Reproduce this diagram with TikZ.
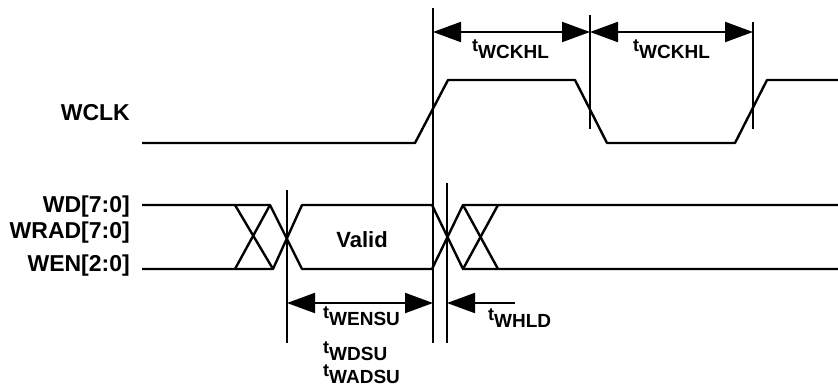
\documentclass[tikz,border=0pt]{standalone}
\usepackage{fontspec}
\setmainfont{Liberation Sans}
\usetikzlibrary{arrows.meta}
\newcommand{\tlab}[1]{{\fontsize{18}{18}\selectfont t}\raisebox{-7pt}{\fontsize{19}{19}\selectfont #1}}
\begin{document}
\begin{tikzpicture}[x=1pt,y=-1pt,
  sig/.style={line width=2.4pt, line join=round},
  vline/.style={line width=1.3pt},
  tip/.tip={Triangle[length=28pt,width=20pt]},
  dim/.style={line width=2pt, tip-tip},
  ldim/.style={line width=2pt, tip-},
  sname/.style={font=\bfseries\fontsize{23}{23}\selectfont, anchor=base east, inner sep=0pt},
  tl/.style={font=\bfseries, inner sep=0pt, anchor=base west}]
\useasboundingbox (0,0) rectangle (838,388);

% WCLK
\draw[sig] (142,143) -- (415,143) -- (448,80) -- (575,80) -- (607,143) -- (735,143) -- (767,80) -- (838,80);

% data bus
\draw[sig] (142,205) -- (270,205) -- (302,269) -- (432,269) -- (463,205) -- (838,205);
\draw[sig] (142,269) -- (273,269) -- (302,205) -- (432,205) -- (463,269) -- (838,269);
\draw[sig] (235,205) -- (273,269);
\draw[sig] (235,269) -- (270,205);
\draw[sig] (463,205) -- (498,269);
\draw[sig] (463,269) -- (498,205);

% reference lines
\coordinate (a1) at (287,190); \coordinate (a2) at (287,343);
\coordinate (b1) at (433,8);   \coordinate (b2) at (433,343);
\coordinate (c1) at (447,183); \coordinate (c2) at (447,343);
\coordinate (d1) at (590,15);  \coordinate (d2) at (590,129);
\coordinate (e1) at (753,22);  \coordinate (e2) at (753,129);
\draw[vline] (a1) -- (a2);
\draw[vline] (b1) -- (b2);
\draw[vline] (c1) -- (c2);
\draw[vline] (d1) -- (d2);
\draw[vline] (e1) -- (e2);

% dimension arrows
\coordinate (ta) at (433,32); \coordinate (tb) at (590,32); \coordinate (tc) at (753,32);
\draw[dim] (ta) -- (tb);
\draw[dim] (tb) -- (tc);
\coordinate (sa) at (287,303); \coordinate (sb) at (433,303);
\draw[dim] (sa) -- (sb);
\coordinate (ha) at (447,303); \coordinate (hb) at (515,303);
\draw[ldim] (ha) -- (hb);

% labels
\node[sname] (wclk) at (130,120) {WCLK};
\node[sname] (wd) at (130,212) {WD[7:0]};
\node[sname] (wrad) at (130,238) {WRAD[7:0]};
\node[sname] (wen) at (130,271) {WEN[2:0]};
\node[font=\bfseries\fontsize{22}{22}\selectfont, inner sep=0pt, anchor=base] (valid) at (362,247) {Valid};

\node[tl] (t1) at (472,51) {\tlab{WCKHL}};
\node[tl] (t2) at (633,51) {\tlab{WCKHL}};
\node[tl] (t3) at (323,318) {\tlab{WENSU}};
\node[tl] (t4) at (323,353) {\tlab{WDSU}};
\node[tl] (t5) at (323,376) {\tlab{WADSU}};
\node[tl] (t6) at (488,320) {\tlab{WHLD}};
\end{tikzpicture}
\end{document}
